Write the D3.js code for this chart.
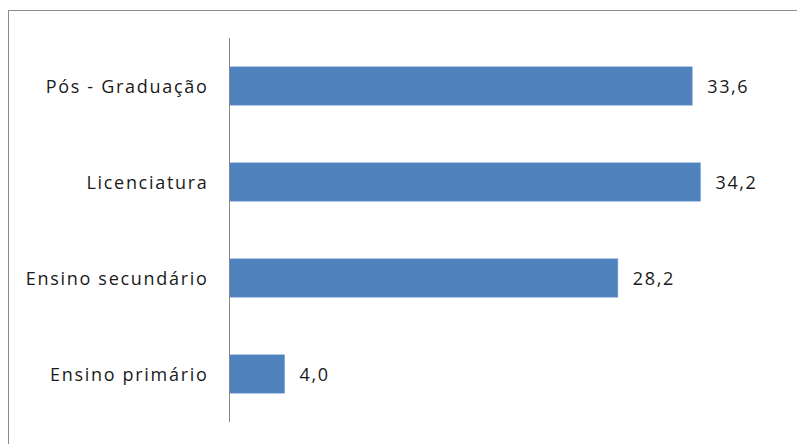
<!DOCTYPE html>
<html>
<head>
<meta charset="utf-8">
<script src="https://cdn.jsdelivr.net/npm/d3@7/dist/d3.min.js"></script>
<style>
  html, body { margin: 0; padding: 0; background: #fff; }
  svg { display: block; }
</style>
</head>
<body>
<svg id="chart" width="797" height="444"></svg>
<script>
// Education level shares (%)
const categories = ["Pós - Graduação", "Licenciatura", "Ensino secundário", "Ensino primário"];
const values = [33.6, 34.2, 28.2, 4.0];

const W = 797, H = 444;
const svg = d3.select("#chart");

// Chart frame (top and left edges fall inside the view)
svg.append("rect")
  .attr("x", 8.5).attr("y", 10.5)
  .attr("width", W + 20).attr("height", H + 20)
  .attr("fill", "#fff")
  .attr("stroke", "#8c8c8c")
  .attr("stroke-width", 1);

const x0 = 229.5;
const x = d3.scaleLinear().domain([0, 34.2]).range([x0, 700.5]);
const y = d3.scaleBand().domain(categories).range([38, 422]).paddingInner(0.6).paddingOuter(0.3);

const fmt = v => v.toFixed(1).replace(".", ",");
const font = "'Open Sans', 'Segoe UI', sans-serif";

// Bars
svg.append("g").selectAll("rect")
  .data(values)
  .join("rect")
  .attr("x", x(0))
  .attr("y", (d, i) => y(categories[i]))
  .attr("width", d => x(d) - x(0))
  .attr("height", y.bandwidth())
  .attr("fill", "#4f81bd")
  .attr("stroke", "#7fa6d6")
  .attr("stroke-width", 0.6);

// Category axis
const axis = d3.axisLeft(y).tickSize(0).tickPadding(21);
const gAxis = svg.append("g").attr("transform", `translate(${x0},0)`).call(axis);
gAxis.select(".domain").attr("stroke", "#868686").attr("d", `M0,38V422`);
gAxis.selectAll("text")
  .attr("font-family", font)
  .attr("font-size", 18)
  .attr("letter-spacing", 1.7)
  .attr("fill", "#1a1a1a")
  .attr("dy", "0.38em");

// Value labels
svg.append("g").selectAll("text")
  .data(values)
  .join("text")
  .attr("x", d => x(d) + 15)
  .attr("y", (d, i) => y(categories[i]) + y.bandwidth() / 2)
  .attr("dy", "0.4em")
  .attr("font-family", font)
  .attr("font-size", 18)
  .attr("letter-spacing", 1.6)
  .attr("fill", "#1a1a1a")
  .text(fmt);
</script>
</body>
</html>
